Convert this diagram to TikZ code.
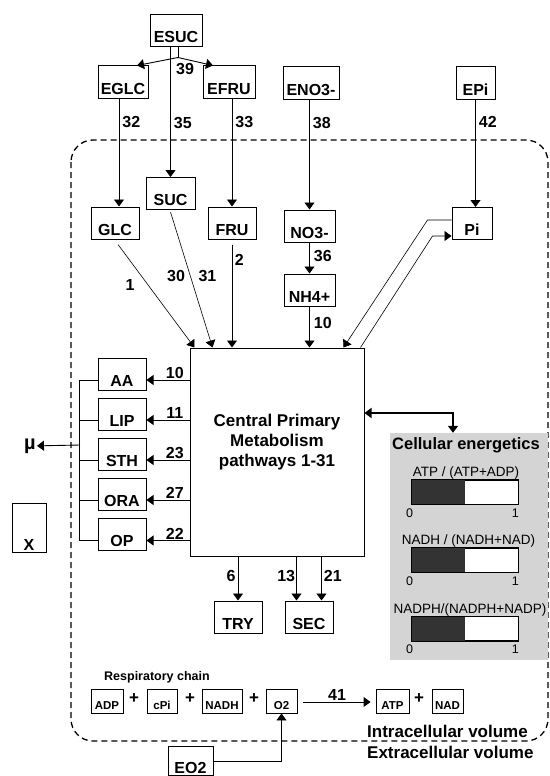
\documentclass[tikz,border=0pt]{standalone}
\usepackage{fontspec}
\setmainfont{Liberation Sans}
\usetikzlibrary{arrows.meta}
\newcommand{\fsz}[1]{\fontsize{#1}{#1}\selectfont}

\begin{document}
\begin{tikzpicture}[x=1pt, y=-1pt, >={Triangle[length=7pt,width=10pt]},
    box/.style={draw, line width=1pt, fill=white, inner sep=0pt, minimum width=#1,
        minimum height=32pt, text height=24pt, text depth=0pt, font=\bfseries\fsz{16}},
    box/.default=48pt,
    rbox/.style={draw, line width=0.9pt, inner sep=0pt, minimum width=#1,
        minimum height=24pt, text height=17pt, text depth=0pt, font=\bfseries\fsz{11.5}},
    fluxnum/.style={font=\bfseries\fsz{16}, inner sep=1pt},
    flux/.style={->, line width=0.9pt},
    thinflux/.style={->, line width=0.6pt},
    plussign/.style={font=\bfseries\fsz{17}, inner sep=0pt},
    paneltext/.style={font=\fsz{#1}, inner sep=0pt}]
    \clip (0,0) rectangle (549,776);

    % cell boundary
    \draw[line width=1.3pt, dash pattern=on 6pt off 4pt, rounded corners=22pt] (71,140) rectangle (548,741);

    % extracellular pools
    \node[box=52pt] (esuc) at (176,31) {ESUC};
    \node[box=50pt] (eglc) at (123,82) {EGLC};
    \node[box=52pt] (efru) at (229,82) {EFRU};
    \node[box=56pt] (eno3) at (311,83) {ENO3-};
    \node[box=39pt] (epi) at (475.5,83) {EPi};
    \node[box=45pt, minimum height=29pt, text height=24pt] (eo2) at (190.5,761) {EO2};

    % intracellular pools
    \node[box] (glc) at (115,223) {GLC};
    \node[box=49pt] (suc) at (170.5,193.5) {SUC};
    \node[box] (fru) at (232,223) {FRU};
    \node[box=51pt] (no3) at (309.5,226) {NO3-};
    \node[box=51pt] (nh4) at (309.5,290) {NH4+};
    \node[box=40pt] (pi) at (472,223.5) {Pi};
    \node[draw, line width=1pt, fill=white, minimum width=174pt, minimum height=208pt,
        align=center, font=\bfseries\fontsize{17}{20}\selectfont, text depth=24pt] (cpm)
        at (277,452) {Central Primary\\Metabolism\\pathways 1-31};
    \node[box] (try) at (238,617) {TRY};
    \node[box] (sec) at (309,617) {SEC};
    \node[box=34pt, minimum height=49pt, text height=45pt] (xbox) at (29,527.5) {X};

    % uptake
    \draw[line width=0.9pt] ([xshift=2pt]esuc.south) -- ++(0,10) coordinate (split);
    \draw[flux] (split) -- ([xshift=14pt]eglc.north);
    \draw[flux] (split) -- ([xshift=-16pt]efru.north) node[fluxnum, pos=0.2, below=3pt] {39};
    \draw[flux] (esuc.south -| suc.north) -- (suc.north) node[fluxnum, right=2pt, pos=0.58] {35};
    \draw[flux] ([xshift=-4pt]eglc.south) -- ([xshift=-4pt]eglc.south |- glc.north)
        node[fluxnum, right=2pt, pos=0.22] {32};
    \draw[flux] (efru.south -| fru.north) -- (fru.north) node[fluxnum, right=2pt, pos=0.22] {33};
    \draw[flux] (eno3.south -| no3.north) -- (no3.north) node[fluxnum, right=2pt, pos=0.21] {38};
    \draw[flux] (epi.south) -- (epi.south |- pi.north) node[fluxnum, right=2pt, pos=0.21] {42};

    % into central metabolism
    \draw[thinflux] ([xshift=3pt,yshift=-5pt]glc.south) -- ([xshift=5pt]cpm.north west)
        node[fluxnum, pos=0.39, left=12pt] {1};
    \draw[thinflux] ([yshift=-2pt]suc.south) -- ([xshift=23pt]cpm.north west)
        node[fluxnum, pos=0.47, left=4pt] {30} node[fluxnum, pos=0.47, right=7pt] {31};
    \draw[flux] ([yshift=-5pt]fru.south) -- (fru.south |- cpm.north) node[fluxnum, pos=0.15, right=1.5pt] {2};
    \draw[flux] (no3.south) -- (nh4.north) node[fluxnum, pos=0.44, right=3pt] {36};
    \draw[flux] (nh4.south) -- (nh4.south |- cpm.north) node[fluxnum, pos=0.4, right=3pt] {10};
    \draw[thinflux] ([yshift=3.5pt]pi.west) -- ++(-24,0) -- ([xshift=-21pt]cpm.north east);
    \draw[thinflux] ([xshift=-4pt]cpm.north east) -- ([xshift=-19pt,yshift=-12.5pt]pi.west)
        -- ([yshift=-12.5pt]pi.west);

    % biomass
    \foreach \nm/\txt/\yy/\val in {aa/AA/374/10, lip/LIP/414/11, sth/STH/454/23, ora/ORA/494/27, op/OP/534.5/22} {
        \node[box] (\nm) at (122,\yy) {\txt};
        \draw[flux] ([yshift=-6pt]\nm.east -| cpm.west) -- ([yshift=-6pt]\nm.east)
            node[fluxnum, above=0pt, pos=0.34] {\val};
        \draw[line width=0.8pt] ([yshift=-6pt]\nm.west) -- ++(-18,0);
    }
    \draw[line width=0.8pt] ([xshift=-18pt,yshift=-6pt]aa.west) -- ([xshift=-18pt,yshift=-6pt]op.west);
    \coordinate (brk) at (80,445);
    \node[font=\bfseries\fsz{20}, inner sep=1pt] (mu) at (30,446) {µ};
    \draw[flux] (brk) -- (mu);

    % secretion
    \draw[flux] (cpm.south -| try.north) -- (try.north) node[fluxnum, left=1pt, pos=0.44] {6};
    \draw[flux] ([xshift=-12.5pt]cpm.south -| sec.north) -- ([xshift=-12.5pt]sec.north)
        node[fluxnum, left=0pt, pos=0.44] {13};
    \draw[flux] ([xshift=12.5pt]cpm.south -| sec.north) -- ([xshift=12.5pt]sec.north)
        node[fluxnum, right=1pt, pos=0.44] {21};

    % cellular energetics
    \node[fill=black!17, inner sep=0pt, minimum width=158pt, minimum height=227pt] (energy) at (469,546.5) {};
    \node[font=\bfseries\fsz{16.5}, inner sep=0pt] (entitle) at (466,445) {Cellular energetics};
    \draw[<->, line width=2pt] ([yshift=39pt]cpm.east) -| ([xshift=-16pt]energy.north);
    \foreach \nm/\ttl/\yy/\dx in {atpr/{ATP / (ATP+ADP)}/492/1, nadhr/{NADH / (NADH+NAD)}/560/3.5, nadphr/{NADPH/(NADPH+NADP)}/628.5/5} {
        \node[draw, fill=white, line width=0.8pt, minimum width=106pt, minimum height=24pt, inner sep=0pt] (\nm) at (465,\yy) {};
        \fill[black!80] (\nm.south west) rectangle (\nm.north);
        \draw[line width=0.8pt] (\nm.south west) rectangle (\nm.north east);
        \node[paneltext=13.5, anchor=base] (\nm-t) at ([xshift=\dx pt, yshift=3pt]\nm.north) {\ttl};
        \node[paneltext=12.5, anchor=base] (\nm-0) at ([xshift=-2pt, yshift=-13pt]\nm.south west) {0};
        \node[paneltext=12.5, anchor=base] (\nm-1) at ([xshift=-3pt, yshift=-13pt]\nm.south east) {1};
    }

    % respiratory chain
    \node[font=\bfseries\fsz{12.5}, inner sep=0pt] (rctitle) at (157,677) {Respiratory chain};
    \node[rbox=32pt] (adp) at (107,701) {ADP};
    \node[plussign] (plus1) at (134,699) {+};
    \node[rbox=30pt] (cpi) at (162,701) {cPi};
    \node[plussign] (plus2) at (190,699) {+};
    \node[rbox=40pt] (nadh) at (222,701) {NADH};
    \node[plussign] (plus3) at (254,699) {+};
    \node[rbox=31pt] (o2) at (281.5,701) {O2};
    \node[rbox=33pt] (atp) at (392.5,701) {ATP};
    \node[plussign] (plus4) at (419,699) {+};
    \node[rbox=31pt] (nad) at (447.5,701) {NAD};
    \draw[flux] ([xshift=6pt,yshift=-1pt]o2.east) -- ([xshift=-5pt,yshift=-1pt]atp.west)
        node[fluxnum, midway, above=0pt] {41};
    \draw[flux] (eo2.east) -| (o2.south);

    % compartments
    \node[font=\bfseries\fsz{17}, anchor=base west, inner sep=0pt] (intra) at (367,737) {Intracellular volume};
    \node[font=\bfseries\fsz{17}, anchor=base west, inner sep=0pt] (extra) at (367,758) {Extracellular volume};
\end{tikzpicture}
\end{document}
